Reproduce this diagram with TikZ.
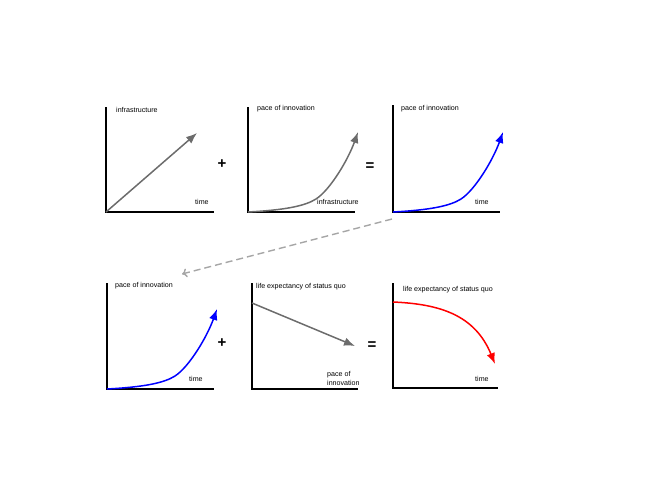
\documentclass[tikz,border=0pt]{standalone}
\usepackage{fontspec}
\setmainfont{Liberation Sans}
\usetikzlibrary{arrows.meta}
\usepackage{xcolor}

\begin{document}
\begin{tikzpicture} [x=1pt, y=-1pt,
  axis/.style={black, line width=1.6pt},
  trend/.style={line width=1.5pt, -{Latex[length=11pt,width=8.5pt]}},
  lbl/.style={anchor=west, inner sep=0, font=\fontsize{7.1}{8.2}\selectfont},
  sign/.style={inner sep=0, font=\fontsize{15}{15}\selectfont\bfseries}]
\useasboundingbox (0,0) rectangle (650,488);
% origins of the six charts
\coordinate (o1) at (106,212);
\coordinate (o2) at (248,212);
\coordinate (o3) at (393,212);
\coordinate (o4) at (107,389);
\coordinate (o5) at (252,389);
\coordinate (o6) at (393,388);
% axes
\draw[axis] (106,107) |- (214,212);
\draw[axis] (248,107) |- (355,212);
\draw[axis] (393,105) |- (500,212);
\draw[axis] (107,283) |- (214,389);
\draw[axis] (252,283) |- (358,389);
\draw[axis] (393,283) |- (498,388);
% labels
\node[lbl] (c1y) at (116,110) {infrastructure};
\node[lbl] (c1x) at (195,202) {time};
\node[lbl] (c2y) at (257,109) {pace of innovation};
\node[lbl] (c2x) at (317,202) {infrastructure};
\node[lbl] (c3y) at (401,109) {pace of innovation};
\node[lbl] (c3x) at (475,202) {time};
\node[lbl] (c4y) at (115,286) {pace of innovation};
\node[lbl] (c4x) at (189,379) {time};
\node[lbl] (c5y) at (256,287) {life expectancy of status quo};
\node[lbl, align=left] (c5x) at (327,378.5) {pace of\\innovation};
\node[lbl] (c6y) at (403,290) {life expectancy of status quo};
\node[lbl] (c6x) at (475,379) {time};
% signs
\node[sign] (plus1) at (222,164) {+};
\node[sign] (eq1) at (370,167) {=};
\node[sign] (plus2) at (222,343) {+};
\node[sign] (eq2) at (372,346) {=};
% trends
\draw[trend, gray!85!black] (o1) -- (197,133);
\foreach \o/\c in {o2/gray!85!black, o3/blue, o4/blue} {
 \begin{scope}[shift={(\o)}]
 \draw[trend, \c] (0,0) .. controls (37,-2) and (57,-6) .. (68,-13)
   .. controls (82,-22) and (100,-52) .. (110,-80);
 \end{scope}
}
\draw[trend, gray!85!black] (252,303) -- (355,346);
\draw[trend, red] (393,302) .. controls (440,304) and (475,315) .. (495,364);
% link between rows
\draw[gray!70, line width=1.4pt, dash pattern=on 7pt off 4pt, -{To[length=5pt,width=9pt]}] (392,219) -- (182,274);
\end{tikzpicture}
\end{document}
